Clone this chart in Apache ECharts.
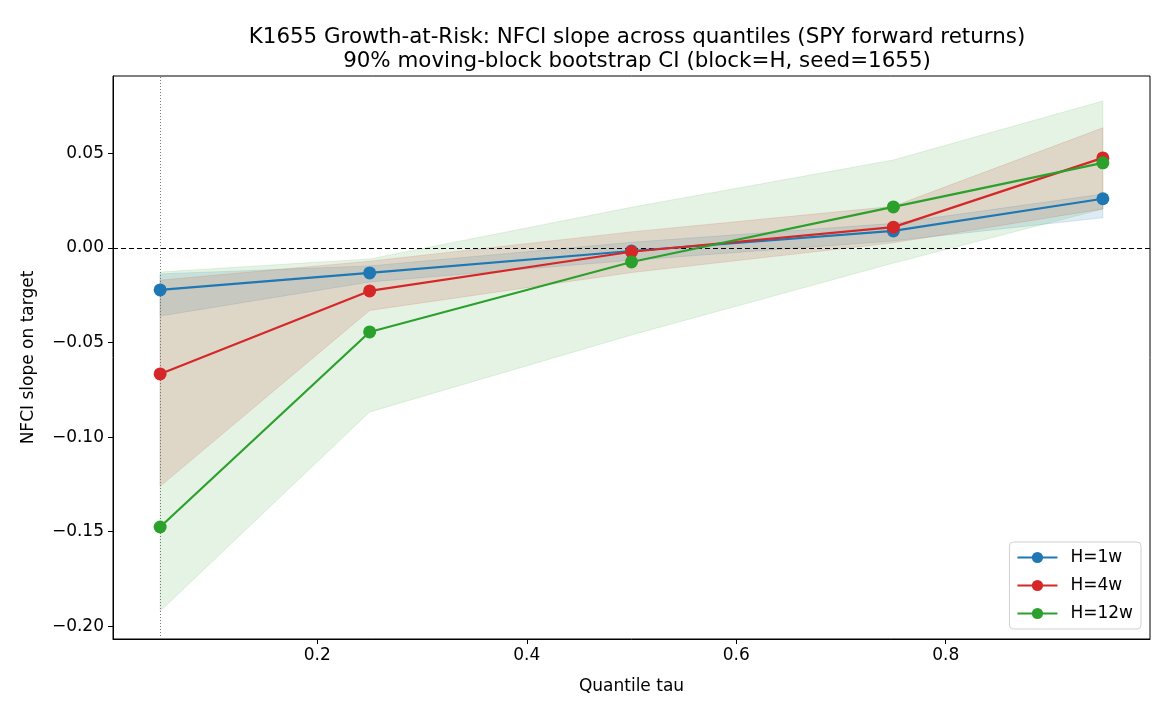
<!DOCTYPE html>
<html>
<head>
<meta charset="utf-8">
<script src="https://cdn.jsdelivr.net/npm/echarts@6/dist/echarts.min.js"></script>
<style>
  html, body { margin: 0; padding: 0; background: #fff; }
  #chart { width: 1170px; height: 715px; }
</style>
</head>
<body>
<div id="chart"></div>
<script>
// quantiles on the x axis
const taus = [0.05, 0.25, 0.5, 0.75, 0.95];

// point estimates of the NFCI slope
const slope1w = [-0.0222, -0.0132, -0.0016, 0.0090, 0.0260];
const slope4w = [-0.0666, -0.0227, -0.0020, 0.0110, 0.0476];
const slope12w = [-0.1475, -0.0444, -0.0074, 0.0217, 0.0450];

// 90% bootstrap CI bounds
const lo1w = [-0.0360, -0.0180, -0.0065, 0.0037, 0.0160];
const hi1w = [-0.0137, -0.0095, 0.0030, 0.0130, 0.0285];
const lo4w = [-0.1260, -0.0330, -0.0130, 0.0027, 0.0206];
const hi4w = [-0.0170, -0.0070, 0.0085, 0.0220, 0.0635];
const lo12w = [-0.1920, -0.0867, -0.0460, -0.0080, 0.0206];
const hi12w = [-0.0127, -0.0058, 0.0215, 0.0465, 0.0777];

const xTicks = [0.2, 0.4, 0.6, 0.8];
const yTicks = [-0.2, -0.15, -0.1, -0.05, 0, 0.05];

const FONT = "DejaVu Sans";
const names = ["H=1w", "H=4w", "H=12w"];
const colors = ["#1f77b4", "#d62728", "#2ca02c"];

function fmtY(v) {
  const s = Math.abs(v).toFixed(2);
  return v < -1e-9 ? "\u2212" + s : s;
}

function band(lo, hi, fill, stroke) {
  return {
    type: "custom",
    silent: true,
    clip: true,
    data: taus.map((t, i) => [t, lo[i], hi[i]]),
    encode: { x: 0, y: [1, 2] },
    renderItem: function (params, api) {
      if (params.dataIndex !== 0) return;
      const pts = [];
      for (let i = 0; i < taus.length; i++) pts.push(api.coord([taus[i], hi[i]]));
      for (let i = taus.length - 1; i >= 0; i--) pts.push(api.coord([taus[i], lo[i]]));
      return {
        type: "polygon",
        shape: { points: pts },
        style: { fill: fill, stroke: stroke, lineWidth: 1 }
      };
    }
  };
}

function line(name, vals, color) {
  return {
    name: name,
    type: "line",
    data: taus.map((t, i) => [t, vals[i]]),
    symbol: "circle",
    symbolSize: 13,
    lineStyle: { color: color, width: 2.2 },
    itemStyle: { color: color },
    z: 5
  };
}

const chart = echarts.init(document.getElementById("chart"));
const option = {
  animation: false,
  textStyle: { fontFamily: FONT },
  title: {
    text: "K1655 Growth-at-Risk: NFCI slope across quantiles (SPY forward returns)\n90% moving-block bootstrap CI (block=H, seed=1655)",
    left: 632,
    textAlign: "center",
    top: 20,
    textStyle: { fontFamily: FONT, fontSize: 21.4, fontWeight: "normal", color: "#000", lineHeight: 24 }
  },
  grid: {
    left: 113, right: 20, top: 76, bottom: 76,
    show: true, borderColor: "#000", borderWidth: 1
  },
  legend: {
    data: names,
    orient: "vertical",
    right: 29,
    bottom: 86,
    itemWidth: 40,
    itemHeight: 14,
    itemGap: 11,
    padding: [7, 8, 7, 7],
    borderColor: "#d0d0d0",
    borderWidth: 1,
    borderRadius: 4,
    backgroundColor: "rgba(255,255,255,0.8)",
    textStyle: { fontFamily: FONT, fontSize: 17, color: "#000", padding: [0, 0, 0, 8] }
  },
  xAxis: {
    type: "value",
    min: 0.005,
    max: 0.995,
    name: "Quantile tau",
    nameLocation: "middle",
    nameGap: 39,
    nameTextStyle: { fontFamily: FONT, fontSize: 17, color: "#000" },
    splitLine: { show: false },
    axisLine: { show: true, onZero: false, lineStyle: { color: "#000", width: 1 } },
    axisTick: { show: true, customValues: xTicks, length: 5, lineStyle: { color: "#000" } },
    axisLabel: {
      customValues: xTicks,
      formatter: v => v.toFixed(1),
      fontFamily: FONT, fontSize: 17, color: "#000", margin: 8
    }
  },
  yAxis: {
    type: "value",
    min: -0.2067,
    max: 0.0909,
    name: "NFCI slope on target",
    nameLocation: "middle",
    nameGap: 76,
    nameRotate: 90,
    nameTextStyle: { fontFamily: FONT, fontSize: 17, color: "#000" },
    splitLine: { show: false },
    axisLine: { show: true, onZero: false, lineStyle: { color: "#000", width: 1 } },
    axisTick: { show: true, customValues: yTicks, length: 5, lineStyle: { color: "#000" } },
    axisLabel: {
      customValues: yTicks,
      formatter: fmtY,
      fontFamily: FONT, fontSize: 17, color: "#000", margin: 9
    }
  },
  series: [
    band(lo1w, hi1w, "rgba(31,119,180,0.15)", "rgba(31,119,180,0.15)"),
    band(lo4w, hi4w, "rgba(214,39,40,0.15)", "rgba(214,39,40,0.15)"),
    band(lo12w, hi12w, "rgba(44,160,44,0.13)", "rgba(44,160,44,0.13)"),
    {
      type: "line",
      data: [],
      silent: true,
      markLine: {
        silent: true,
        symbol: "none",
        label: { show: false },
        data: [
          { yAxis: 0, lineStyle: { color: "#000", width: 1, type: [5, 3] } },
          { xAxis: 0.05, lineStyle: { color: "#777", width: 1, type: [1, 2] } }
        ]
      },
      z: 3
    },
    line(names[0], slope1w, colors[0]),
    line(names[1], slope4w, colors[1]),
    line(names[2], slope12w, colors[2])
  ]
};
chart.setOption(option);
window.addEventListener("resize", () => chart.resize());
</script>
</body>
</html>
